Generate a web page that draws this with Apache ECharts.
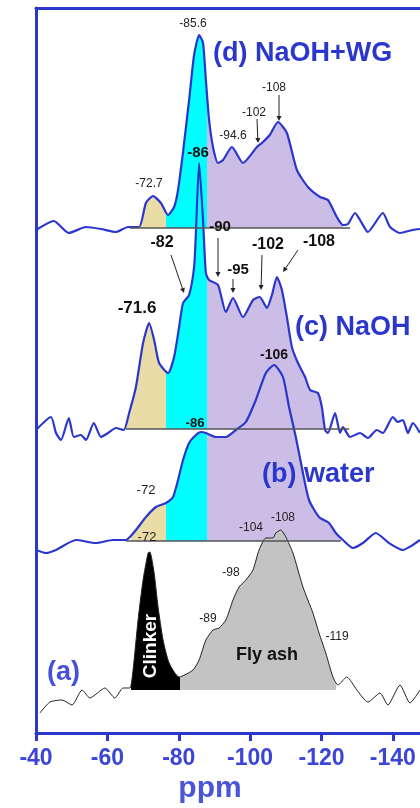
<!DOCTYPE html>
<html>
<head>
<meta charset="utf-8">
<script src="https://cdn.jsdelivr.net/npm/echarts@6/dist/echarts.min.js"></script>
<style>
html, body { margin: 0; padding: 0; background: #fff; }
#chart { width: 420px; height: 808px; }
</style>
</head>
<body>
<div id="chart"></div>
<script>
// chemical shift (ppm) and intensity above each trace's own baseline
const ppmD = [-40.0,-45.0,-49.2,-54.0,-58.2,-62.4,-65.8,-68.9,-70.8,-72.8,-75.0,-77.0,-78.7,-79.8,-81.2,-82.9,-84.3,-85.7,-86.8,-87.6,-88.5,-89.6,-91.0,-92.4,-94.9,-98.0,-101.9,-103.3,-105.5,-107.8,-110.3,-113.1,-116.2,-119.6,-121.8,-124.3,-126.0,-127.4,-129.4,-130.8,-133.0,-137.2,-139.2,-142.0,-145.6,-147.6];
const intD = [-2,7,-5,1,-1,-4,1,1,25,32,25,13,21,38,76,128,173,193,185,148,108,81,65,68,81,65,81,85,93,106,95,58,41,31,28,11,3,4,15,8,-4,15,1,-5,-2,-1];

const ppmC = [-40.0,-44.2,-45.6,-47.0,-49.2,-50.6,-52.6,-54.0,-56.2,-58.2,-60.2,-62.4,-64.6,-66.1,-68.0,-70.0,-71.7,-73.1,-74.5,-77.0,-78.7,-80.1,-81.2,-82.9,-84.3,-84.8,-85.7,-86.8,-87.6,-88.5,-91.0,-93.2,-95.2,-98.0,-100.8,-102.7,-104.7,-106.1,-107.5,-108.9,-110.3,-111.7,-113.4,-115.4,-116.8,-119.0,-120.1,-121.0,-121.8,-123.8,-125.2,-126.0,-128.0,-130.8,-133.0,-135.5,-137.2,-140.0,-141.4,-142.8,-144.2,-145.6,-147.6];
const intC = [-1,12,-4,-11,11,-8,-6,-11,6,-8,-4,1,-1,16,42,86,106,89,66,56,72,102,126,134,162,196,266,209,156,149,144,117,131,112,129,132,121,134,152,139,112,82,66,52,39,36,22,-1,-4,16,-4,2,-8,-4,-9,-1,-4,12,7,9,-4,6,-4];

const ppmB = [-40.0,-42.8,-45.6,-51.2,-56.8,-61.6,-65.2,-68.0,-70.8,-73.6,-76.4,-78.4,-79.8,-81.2,-82.9,-84.8,-86.2,-87.6,-90.4,-93.2,-96.0,-98.8,-101.6,-104.4,-106.7,-109.2,-110.9,-112.8,-114.8,-116.5,-119.3,-122.1,-124.0,-126.0,-128.8,-131.6,-135.2,-138.9,-142.8,-145.6,-147.6];
const intB = [-9,-12,-9,1,-2,1,1,11,24,34,38,44,61,81,98,106,109,108,104,104,111,119,141,168,176,164,134,104,68,41,24,18,8,1,-7,-2,8,-2,-9,-4,1];

const ppmA = [-41.1,-43.9,-47.3,-50.1,-52.9,-55.1,-59.3,-62.1,-64.4,-66.3,-67.2,-68.6,-70.0,-71.4,-71.9,-73.1,-74.2,-75.6,-77.3,-80.1,-84.0,-85.7,-87.6,-89.6,-91.3,-93.2,-95.2,-96.9,-98.8,-100.8,-102.5,-104.4,-106.4,-107.2,-108.6,-110.0,-112.0,-114.8,-117.6,-119.3,-121.2,-123.2,-124.6,-127.1,-129.9,-133.0,-136.4,-138.6,-142.0,-144.8,-147.6];
const intA = [-23,-12,-10,-15,0,-8,2,-8,2,2,20,70,110,137,138,117,83,50,27,13,20,30,50,60,62,70,90,103,110,120,140,152,152,157,160,153,137,103,77,57,37,13,5,13,0,-12,-3,-15,5,-13,0];

const tickLabels = [-40, -60, -80, -100, -120, -140];

// shaded ppm ranges: [from, to]
const fillD = { q0: [-69.5, -76.4], q1: [-76.4, -87.9], q2: [-87.9, -126.0] };
const fillC = { q0: [-65.0, -76.4], q1: [-76.4, -87.9], q2: [-87.9, -121.0] };
const fillB = { q0: [-66.5, -76.4], q1: [-76.4, -87.9], q2: [-87.9, -125.5] };
const fillA = { clinker: [-66.5, -80.3], ash: [-80.3, -124.0] };
// extent of the drawn baselines
const baseLineD = [-66.3, -128.0];
const baseLineC = [-65.2, -127.7];
const baseLineB = [-65.2, -125.4];

// vertical stacking of the traces
const offD = 505, offC = 304, offB = 192, offA = 43;

const BLUE = '#2a36cc';
const TAN = '#eadca6', CYAN = '#00ffff', LILAC = '#cbbde6', GREY = '#c3c3c3';
const FONT = '"Liberation Sans", Arial, sans-serif';

// the axis runs on |ppm| so ticks start cleanly at 40
const toPts = (p, v, off) => p.map((x, i) => [-x, v[i] + off]);
const dD = toPts(ppmD, intD, offD);
const dC = toPts(ppmC, intC, offC);
const dB = toPts(ppmB, intB, offB);
const dA = toPts(ppmA, intA, offA);

const piece = (r, color) => ({ min: Math.min(-r[0], -r[1]), max: Math.max(-r[0], -r[1]), color: color });

function areaSeries(data, off) {
  return {
    type: 'line', data: data, smooth: 0.2, symbol: 'none', silent: true,
    lineStyle: { width: 0 },
    areaStyle: { origin: off, opacity: 1 },
    z: 2
  };
}
function lineSeries(data, color, width, baseExt, off) {
  const s = {
    type: 'line', data: data, smooth: 0.2, symbol: 'none', silent: true,
    lineStyle: { color: color, width: width },
    z: 4
  };
  if (baseExt) {
    s.markLine = {
      silent: true, symbol: 'none', label: { show: false },
      lineStyle: { color: '#555', width: 1.5, type: 'solid' },
      data: [[{ coord: [-baseExt[0], off] }, { coord: [-baseExt[1], off] }]]
    };
  }
  return s;
}

function txt(x, y, text, font, fill, align, extra) {
  return Object.assign({
    type: 'text', x: x, y: y, z: 100,
    style: { text: text, font: font, fill: fill, align: align || 'center', verticalAlign: 'middle',
             textAlign: align || 'center', textVerticalAlign: 'middle' }
  }, extra || {});
}
function arrow(x1, y1, x2, y2) {
  const a = Math.atan2(y2 - y1, x2 - x1), h = 5, w = 2.5;
  const bx = x2 - h * Math.cos(a), by = y2 - h * Math.sin(a);
  return [
    { type: 'line', z: 100, shape: { x1: x1, y1: y1, x2: bx, y2: by }, style: { stroke: '#222', lineWidth: 1 } },
    { type: 'polygon', z: 100, shape: { points: [[x2, y2], [bx + w * Math.sin(a), by - w * Math.cos(a)], [bx - w * Math.sin(a), by + w * Math.cos(a)]] }, style: { fill: '#222' } }
  ];
}

const small = '12px ' + FONT;
const boldS = 'bold 15px ' + FONT;
const big = 'bold 27px ' + FONT;

const graphics = [
  // (d)
  txt(193, 24, '-85.6', small, '#222'),
  txt(149, 184, '-72.7', small, '#222'),
  txt(233, 136, '-94.6', small, '#222'),
  txt(254, 113, '-102', small, '#222'),
  txt(274, 88, '-108', small, '#222'),
  ...arrow(257, 119, 258, 143),
  ...arrow(279, 95, 279, 121),
  txt(213, 54, '(d) NaOH+WG', big, BLUE, 'left'),
  // (c)
  txt(198, 153, '-86', boldS, '#111'),
  txt(220, 227, '-90', boldS, '#111'),
  txt(162, 243, '-82', 'bold 16px ' + FONT, '#111'),
  txt(238, 270, '-95', boldS, '#111'),
  txt(268, 245, '-102', 'bold 16px ' + FONT, '#111'),
  txt(319, 242, '-108', 'bold 16px ' + FONT, '#111'),
  txt(137, 308, '-71.6', 'bold 17px ' + FONT, '#111'),
  ...arrow(218, 238, 218, 277),
  ...arrow(171, 255, 184, 293),
  ...arrow(233, 279, 233, 293),
  ...arrow(262, 255, 261, 290),
  ...arrow(298, 250, 283, 272),
  txt(295, 328, '(c) NaOH', big, BLUE, 'left'),
  // (b)
  txt(195, 423, '-86', 'bold 13px ' + FONT, '#111'),
  txt(274, 355, '-106', 'bold 14px ' + FONT, '#111'),
  txt(146, 490, '-72', '13px ' + FONT, '#222'),
  txt(147, 537, '-72', '13px ' + FONT, '#222'),
  txt(262, 475, '(b) water', big, BLUE, 'left'),
  // (a)
  txt(251, 528, '-104', small, '#222'),
  txt(283, 518, '-108', small, '#222'),
  txt(231, 573, '-98', small, '#222'),
  txt(208, 619, '-89', small, '#222'),
  txt(337, 637, '-119', small, '#222'),
  txt(267, 655, 'Fly ash', 'bold 18px ' + FONT, '#111'),
  txt(151, 646, 'Clinker', 'bold 19px ' + FONT, '#fff', 'center', { rotation: Math.PI / 2 }),
  txt(47, 673, '(a)', big, '#4750dc', 'left'),
  txt(210, 789, 'ppm', 'bold 30px ' + FONT, '#4a55d8')
];

const chart = echarts.init(document.getElementById('chart'));
chart.setOption({
  animation: false,
  backgroundColor: '#fff',
  grid: { left: 36, top: 8, right: 0, bottom: 75 },
  xAxis: [{
    type: 'value', min: 40, max: 147.6, interval: 20,
    axisLine: { show: true, lineStyle: { color: BLUE, width: 3 } },
    axisTick: { show: true, length: 8, customValues: tickLabels.map(v => -v), lineStyle: { color: BLUE, width: 3 } },
    axisLabel: {
      margin: 14, color: '#3b45d6', fontSize: 23, fontWeight: 'bold', fontFamily: FONT,
      customValues: tickLabels.map(v => -v),
      formatter: v => '-' + v
    },
    splitLine: { show: false }
  }, {
    type: 'value', position: 'top', min: 40, max: 147.6,
    axisLine: { show: true, lineStyle: { color: BLUE, width: 3 } },
    axisTick: { show: false }, axisLabel: { show: false }, splitLine: { show: false }
  }],
  yAxis: {
    type: 'value', min: 0, max: 725,
    axisLine: { show: true, lineStyle: { color: BLUE, width: 3 } },
    axisTick: { show: false }, axisLabel: { show: false }, splitLine: { show: false }
  },
  visualMap: [
    { type: 'piecewise', show: false, seriesIndex: 0, dimension: 0,
      pieces: [piece(fillD.q0, TAN), piece(fillD.q1, CYAN), piece(fillD.q2, LILAC)],
      outOfRange: { color: 'rgba(255,255,255,0)' } },
    { type: 'piecewise', show: false, seriesIndex: 1, dimension: 0,
      pieces: [piece(fillC.q0, TAN), piece(fillC.q1, CYAN), piece(fillC.q2, LILAC)],
      outOfRange: { color: 'rgba(255,255,255,0)' } },
    { type: 'piecewise', show: false, seriesIndex: 2, dimension: 0,
      pieces: [piece(fillB.q0, TAN), piece(fillB.q1, CYAN), piece(fillB.q2, LILAC)],
      outOfRange: { color: 'rgba(255,255,255,0)' } },
    { type: 'piecewise', show: false, seriesIndex: 3, dimension: 0,
      pieces: [piece(fillA.clinker, '#000'), piece(fillA.ash, GREY)],
      outOfRange: { color: 'rgba(255,255,255,0)' } }
  ],
  series: [
    areaSeries(dD, offD),
    areaSeries(dC, offC),
    areaSeries(dB, offB),
    areaSeries(dA, offA),
    lineSeries(dD, BLUE, 2.2, baseLineD, offD),
    lineSeries(dC, BLUE, 2.2, baseLineC, offC),
    lineSeries(dB, BLUE, 2.2, baseLineB, offB),
    lineSeries(dA, '#222', 1, null, offA)
  ],
  graphic: graphics
});
</script>
</body>
</html>
